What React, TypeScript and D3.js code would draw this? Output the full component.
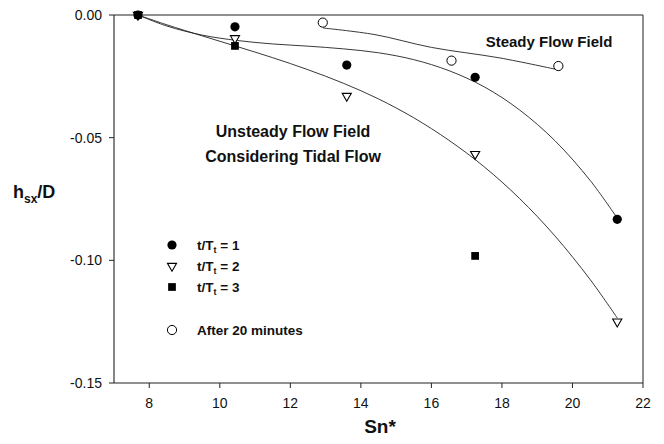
import React from "react";
import * as d3 from "d3";

// Measured scour depth ratios against Sn*
const snValues = [7.68, 10.43, 13.6, 17.24, 21.27];
const tidal1 = [0, -0.0048, -0.0204, -0.0254, -0.0833];
const tidal2 = [0, -0.0095, -0.033, -0.0567, -0.125];
const tidal3Sn = [7.68, 10.43, 17.24];
const tidal3 = [0, -0.0126, -0.0982];
const steadySn = [12.92, 16.57, 19.6];
const steady = [-0.0031, -0.0186, -0.0208];

// Fitted trend curves
const fitSn = [7.68, 8.5, 9.5, 10.5, 11.5, 12.5, 13.5, 14.5, 15.5, 16.5, 17.5, 18.5, 19.5, 20.5, 21.27];
const fit1 = [0, -0.0045, -0.0082, -0.0104, -0.0118, -0.0127, -0.0138, -0.0154, -0.0182, -0.0227, -0.0293, -0.0387, -0.0512, -0.0674, -0.0828];
const fit2 = [0, -0.004, -0.0085, -0.0129, -0.0174, -0.0223, -0.0278, -0.0342, -0.0419, -0.0511, -0.0619, -0.0748, -0.09, -0.1078, -0.1235];
const fitSteadySn = [12.93, 14.4, 16.0, 17.94, 19.55];
const fitSteady = [-0.0053, -0.008, -0.0132, -0.0175, -0.0222];

const xTicks = [8, 10, 12, 14, 16, 18, 20, 22];
const yTicks = [0, -0.05, -0.1, -0.15];

const legendLabels = ["1", "2", "3"];

const W = 664;
const H = 444;
const FONT = "'Liberation Sans', Arial, Helvetica, sans-serif";

export default function App() {
  const x = d3.scaleLinear().domain([7, 22]).range([114, 643]);
  const y = d3.scaleLinear().domain([-0.15, 0]).range([383, 15]);

  const line = d3
    .line<[number, number]>()
    .x((d) => x(d[0]))
    .y((d) => y(d[1]))
    .curve(d3.curveCatmullRom.alpha(0.5));

  const zip = (a: number[], b: number[]) => a.map((v, i) => [v, b[i]] as [number, number]);

  const triPath = d3.symbol(d3.symbolTriangle, 36)() as string;
  const sqPath = d3.symbol(d3.symbolSquare, 60)() as string;
  const r = 4.6;

  const Tri = ({ cx, cy }: { cx: number; cy: number }) => (
    <path d={triPath} transform={`translate(${cx},${cy}) rotate(180)`} fill="#fff" stroke="#000" strokeWidth={1.1} />
  );
  const Sq = ({ cx, cy }: { cx: number; cy: number }) => (
    <path d={sqPath} transform={`translate(${cx},${cy})`} fill="#000" />
  );
  const Dot = ({ cx, cy }: { cx: number; cy: number }) => <circle cx={cx} cy={cy} r={r} fill="#000" />;
  const Ring = ({ cx, cy }: { cx: number; cy: number }) => (
    <circle cx={cx} cy={cy} r={r} fill="#fff" stroke="#000" strokeWidth={1} />
  );

  const [x0, x1] = x.range();
  const [yb, yt] = y.range();

  const legendX = 172;
  const legendTextX = 197;
  const legendRows = [245, 266, 287];
  const legendOpenRow = 330;

  return (
    <svg
      width={W}
      height={H}
      style={{ position: "absolute", left: 0, top: 0, background: "#fff" }}
      fontFamily={FONT}
    >
      <rect width={W} height={H} fill="#fff" />

      {/* frame */}
      <line x1={x0} x2={x1} y1={yt} y2={yt} stroke="#222" strokeWidth={1.1} />
      <line x1={x1} x2={x1} y1={yt} y2={yb} stroke="#333" strokeWidth={1.1} />
      <line x1={x0} x2={x1} y1={yb} y2={yb} stroke="#222" strokeWidth={1.1} />
      <line x1={x0} x2={x0} y1={yt} y2={yb} stroke="#222" strokeWidth={1.1} />

      {/* x axis ticks */}
      {xTicks.map((t) => (
        <g key={`xt${t}`}>
          <line x1={x(t)} x2={x(t)} y1={yb} y2={yb + 5} stroke="#222" strokeWidth={1} />
          <text x={x(t)} y={yb + 25} textAnchor="middle" fontSize={14} fill="#111">
            {t}
          </text>
        </g>
      ))}

      {/* y axis ticks */}
      {yTicks.map((t) => (
        <g key={`yt${t}`}>
          <line x1={x0 - 5} x2={x0} y1={y(t)} y2={y(t)} stroke="#222" strokeWidth={1} />
          <text x={x0 - 12} y={y(t) + 5} textAnchor="end" fontSize={14} fill="#111">
            {d3.format(".2f")(t).replace("−", "-")}
          </text>
        </g>
      ))}

      {/* axis titles */}
      <text x={380} y={433} textAnchor="middle" fontSize={19} fontWeight="bold" fill="#111">
        Sn*
      </text>
      <text x={13} y={198} fontSize={18} fontWeight="bold" fill="#111">
        h
        <tspan fontSize={12} dy={5}>sx</tspan>
        <tspan dy={-5}>/D</tspan>
      </text>

      {/* fitted curves */}
      <path d={line(zip(fitSn, fit1)) as string} fill="none" stroke="#222" strokeWidth={0.9} />
      <path d={line(zip(fitSn, fit2)) as string} fill="none" stroke="#222" strokeWidth={0.9} />
      <path d={line(zip(fitSteadySn, fitSteady)) as string} fill="none" stroke="#222" strokeWidth={0.9} />

      {/* data markers */}
      {snValues.map((s, i) => (
        <Tri key={`t2${i}`} cx={x(s)} cy={y(tidal2[i])} />
      ))}
      {snValues.map((s, i) => (
        <Dot key={`t1${i}`} cx={x(s)} cy={y(tidal1[i])} />
      ))}
      {tidal3Sn.map((s, i) => (
        <Sq key={`t3${i}`} cx={x(s)} cy={y(tidal3[i])} />
      ))}
      {steadySn.map((s, i) => (
        <Ring key={`st${i}`} cx={x(s)} cy={y(steady[i])} />
      ))}

      {/* annotations */}
      <text x={549} y={47} textAnchor="middle" fontSize={15} fontWeight="bold" fill="#111">
        Steady Flow Field
      </text>
      <text x={293} y={137} textAnchor="middle" fontSize={16} fontWeight="bold" fill="#111">
        Unsteady Flow Field
      </text>
      <text x={293} y={162} textAnchor="middle" fontSize={16} fontWeight="bold" fill="#111">
        Considering Tidal Flow
      </text>

      {/* legend */}
      <Dot cx={legendX} cy={legendRows[0]} />
      <Tri cx={legendX} cy={legendRows[1]} />
      <Sq cx={legendX} cy={legendRows[2]} />
      <Ring cx={legendX} cy={legendOpenRow} />
      {legendLabels.map((v, i) => (
        <text key={`lg${v}`} x={legendTextX} y={legendRows[i] + 5} fontSize={13.5} fontWeight="bold" fill="#111">
          t/T
          <tspan fontSize={9} dy={3}>t</tspan>
          <tspan dy={-3}>{` = ${v}`}</tspan>
        </text>
      ))}
      <text x={legendTextX} y={legendOpenRow + 5} fontSize={13.5} fontWeight="bold" fill="#111">
        After 20 minutes
      </text>
    </svg>
  );
}
